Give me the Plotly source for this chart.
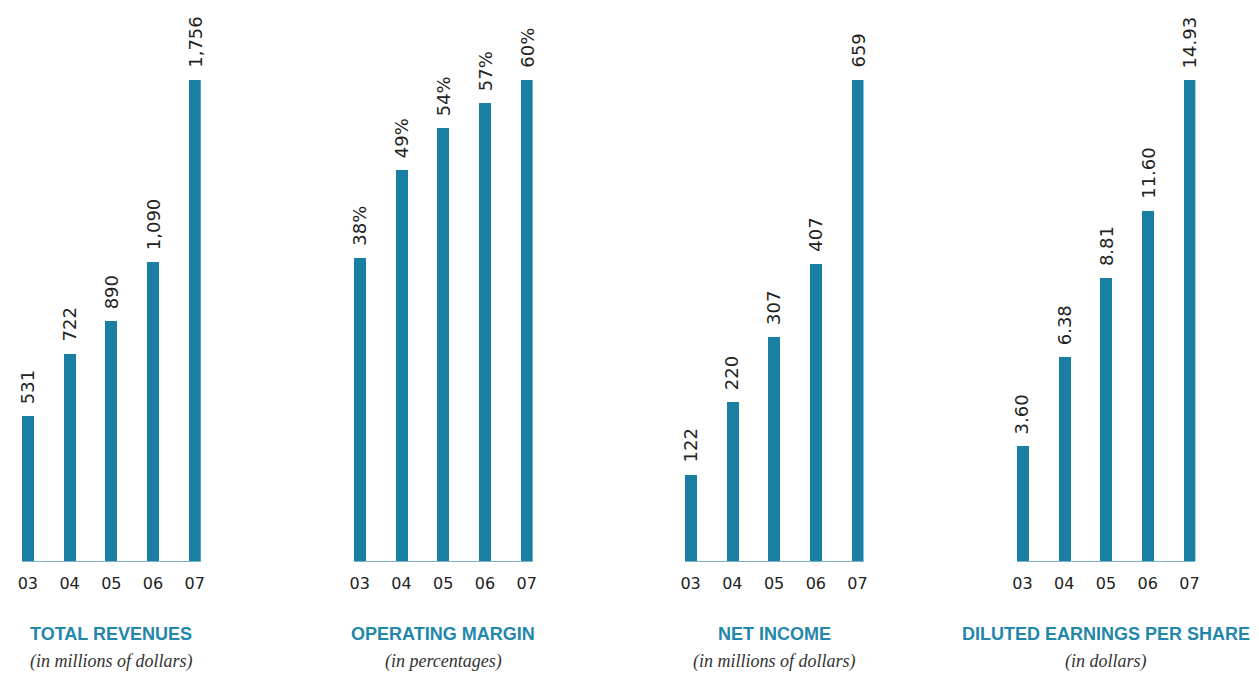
import plotly.graph_objects as go

years = ["03", "04", "05", "06", "07"]
# bar heights as drawn in the picture (labels carry the printed values)
revenues = [528, 756, 876, 1091, 1756]
revenue_labels = ["531", "722", "890", "1,090", "1,756"]
op_margin = [37.8, 48.8, 54.0, 57.1, 60]
op_labels = ["38%", "49%", "54%", "57%", "60%"]
net_income = [118, 218, 307, 407, 659]
net_labels = ["122", "220", "307", "407", "659"]
eps = [3.57, 6.33, 8.78, 10.86, 14.93]
eps_labels = ["3.60", "6.38", "8.81", "11.60", "14.93"]
titles = ["TOTAL REVENUES", "OPERATING MARGIN", "NET INCOME", "DILUTED EARNINGS PER SHARE"]
subtitles = ["(in millions of dollars)", "(in percentages)", "(in millions of dollars)", "(in dollars)"]

series = [revenues, op_margin, net_income, eps]
labels = [revenue_labels, op_labels, net_labels, eps_labels]

W, H = 1259, 673
BAR = "#1a80a3"
TEAL = "#2387ab"
left_px = [18, 352, 685, 1019]
pitch = 42
bar_w = 12
span = 4 * pitch + bar_w  # 180 px
half = (bar_w / 2) / pitch

ydom = [(H - 561) / H, (H - 80) / H]

fig = go.Figure()
annotations = []
for i in range(4):
    ax = "" if i == 0 else str(i + 1)
    xs = list(range(len(years)))
    fig.add_trace(go.Bar(
        x=xs, y=series[i], width=bar_w / pitch, marker=dict(color=BAR, line=dict(width=0)),
        xaxis="x" + ax, yaxis="y" + ax, showlegend=False, hoverinfo="skip",
    ))
    x0 = left_px[i] / W
    x1 = (left_px[i] + span) / W
    fig.update_layout(**{
        "xaxis" + ax: dict(
            domain=[x0, x1], range=[-half, 4 + half], anchor="y" + ax,
            tickvals=xs, ticktext=years, showgrid=False, zeroline=False,
            showline=True, linecolor="#7db3c8", linewidth=1, ticks="",
            ticklabelstandoff=8,
            tickfont=dict(family="DejaVu Sans", size=16, color="#222222"),
            fixedrange=True,
        ),
        "yaxis" + ax: dict(
            domain=ydom, range=[0, max(series[i])], anchor="x" + ax,
            visible=False, showgrid=False, zeroline=False, fixedrange=True,
        ),
    })
    for j, (v, t) in enumerate(zip(series[i], labels[i])):
        annotations.append(dict(
            x=j, y=v, xref="x" + ax, yref="y" + ax, text=t, showarrow=False,
            textangle=-90, yanchor="bottom", xanchor="center", yshift=10,
            font=dict(family="DejaVu Sans", size=18, color="#222222"),
        ))
    cx = (left_px[i] + span / 2) / W
    annotations.append(dict(
        x=cx, y=(H - 634) / H, xref="paper", yref="paper", text="<b>" + titles[i] + "</b>",
        showarrow=False, xanchor="center", yanchor="middle",
        font=dict(family="Liberation Sans", size=18, color=TEAL),
    ))
    annotations.append(dict(
        x=cx, y=(H - 661) / H, xref="paper", yref="paper", text="<i>" + subtitles[i] + "</i>",
        showarrow=False, xanchor="center", yanchor="middle",
        font=dict(family="Liberation Serif", size=18, color="#333333"),
    ))

fig.update_layout(
    width=W, height=H, margin=dict(l=0, r=0, t=0, b=0),
    paper_bgcolor="white", plot_bgcolor="white",
    annotations=annotations, bargap=0,
)

fig.write_html("out.html", config={"displayModeBar": False})
